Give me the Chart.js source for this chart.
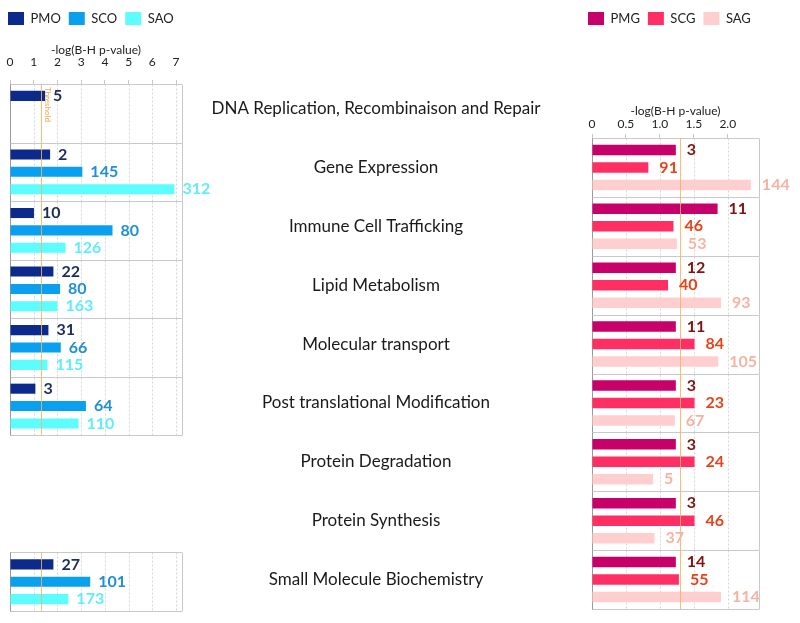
<!DOCTYPE html>
<html><head><meta charset="utf-8">
<script src="https://cdn.jsdelivr.net/npm/chart.js@4.4.1/dist/chart.umd.min.js"></script>
<style>
html,body{margin:0;padding:0;background:#fff;}
#wrap{position:relative;width:800px;height:623px;background:#fff;}
#wrap canvas{position:absolute;left:0;top:0;}
</style></head><body>
<div id="wrap">
<canvas id="leftChart" width="800" height="623"></canvas>
<canvas id="rightChart" width="800" height="623"></canvas>
</div>
<script>
// ---------- data ----------
const categories = [
  'DNA Replication, Recombinaison and Repair',
  'Gene Expression',
  'Immune Cell Trafficking',
  'Lipid Metabolism',
  'Molecular transport',
  'Post translational Modification',
  'Protein Degradation',
  'Protein Synthesis',
  'Small Molecule Biochemistry'
];
const axisTitle = '-log(B-H p-value)';
const thresholdValue = 1.3;

// left panel: -log(B-H p-value), one value per category (null = not shown)
const PMO = [1.48, 1.69, 1.01, 1.83, 1.62, 1.07, null, null, 1.83];
const SCO = [null, 3.05, 4.32, 2.11, 2.14, 3.20, null, null, 3.38];
const SAO = [null, 6.93, 2.34, 2.00, 1.58, 2.89, null, null, 2.46];
// left panel: molecule counts written next to the bars
const PMO_count = [5, 2, 10, 22, 31, 3, null, null, 27];
const SCO_count = [null, 145, 80, 80, 66, 64, null, null, 101];
const SAO_count = [null, 312, 126, 163, 115, 110, null, null, 173];
const leftTicks = [0, 1, 2, 3, 4, 5, 6, 7];

// right panel (categories from 'Gene Expression' on)
const PMG = [1.235, 1.85, 1.235, 1.235, 1.235, 1.235, 1.235, 1.235];
const SCG = [0.83, 1.20, 1.12, 1.51, 1.51, 1.51, 1.51, 1.28];
const SAG = [2.34, 1.25, 1.90, 1.86, 1.22, 0.90, 0.92, 1.90];
const PMG_count = [3, 11, 12, 11, 3, 3, 3, 14];
const SCG_count = [91, 46, 40, 84, 23, 24, 46, 55];
const SAG_count = [144, 53, 93, 105, 67, 5, 37, 114];
const rightTicks = [0, 0.5, 1.0, 1.5, 2.0];

// ---------- styling ----------
Chart.defaults.font.family = 'Lato';
Chart.defaults.color = '#222';

const panelsPlugin = {
  id: 'panels',
  beforeDatasetsDraw(chart, args, opts) {
    const {ctx, chartArea: {left, right}, scales: {x, y}} = chart;
    ctx.save();
    ctx.lineWidth = 1;
    for (let i = y.min; i <= y.max; i++) {
      const has = chart.data.datasets.some(d => d.data[i] != null);
      if (!has) continue;
      const top = Math.round(y.getPixelForValue(i - 0.5)) + 0.5;
      const bot = Math.round(y.getPixelForValue(i + 0.5)) + 0.5;
      ctx.setLineDash([2, 2]);
      ctx.strokeStyle = '#d6d6d6';
      x.ticks.forEach(t => {
        if (t.value <= 0) return;
        const px = Math.round(x.getPixelForValue(t.value)) + 0.5;
        ctx.beginPath(); ctx.moveTo(px, top); ctx.lineTo(px, bot); ctx.stroke();
      });
      ctx.setLineDash([]);
      ctx.strokeStyle = '#c9c9c9';
      ctx.beginPath();
      ctx.moveTo(left, top); ctx.lineTo(right, top);
      ctx.moveTo(left, bot); ctx.lineTo(right, bot);
      ctx.moveTo(Math.round(right) + 0.5, top); ctx.lineTo(Math.round(right) + 0.5, bot);
      ctx.stroke();
      ctx.strokeStyle = '#9a9a9a';
      ctx.beginPath();
      ctx.moveTo(Math.round(left) + 0.5, top); ctx.lineTo(Math.round(left) + 0.5, bot);
      ctx.stroke();
    }
    ctx.restore();
  },
  afterDatasetsDraw(chart, args, opts) {
    const {ctx, scales: {x, y}} = chart;
    ctx.save();
    const tx = Math.round(x.getPixelForValue(opts.threshold)) + 0.5;
    ctx.strokeStyle = 'rgba(248,178,90,0.85)';
    ctx.lineWidth = 1;
    let firstTop = null;
    for (let i = y.min; i <= y.max; i++) {
      const has = chart.data.datasets.some(d => d.data[i] != null);
      if (!has) continue;
      const top = y.getPixelForValue(i - 0.5);
      const bot = y.getPixelForValue(i + 0.5);
      if (firstTop === null) firstTop = top;
      ctx.beginPath(); ctx.moveTo(tx, top); ctx.lineTo(tx, bot); ctx.stroke();
    }
    if (opts.showText && firstTop !== null) {
      ctx.translate(tx + 6, firstTop + 3);
      ctx.rotate(Math.PI / 2);
      ctx.fillStyle = '#f0a54a';
      ctx.font = '8px Lato';
      ctx.textBaseline = 'middle';
      ctx.textAlign = 'left';
      ctx.fillText('Threshold', 0, 0);
    }
    ctx.restore();
  }
};

const countsPlugin = {
  id: 'counts',
  afterDatasetsDraw(chart, args, opts) {
    const {ctx} = chart;
    ctx.save();
    ctx.font = 'bold 16px Lato';
    ctx.textBaseline = 'middle';
    ctx.textAlign = 'left';
    chart.data.datasets.forEach((ds, di) => {
      const meta = chart.getDatasetMeta(di);
      meta.data.forEach((bar, i) => {
        const n = ds.counts[i];
        if (n == null || ds.data[i] == null) return;
        ctx.fillStyle = ds.countColor;
        ctx.fillText(String(n), bar.x + opts.offset, bar.y);
      });
    });
    ctx.restore();
  }
};

const categoryLabelsPlugin = {
  id: 'catLabels',
  afterDraw(chart, args, opts) {
    const {ctx, scales: {y}} = chart;
    ctx.save();
    ctx.font = '17px Lato';
    ctx.fillStyle = '#1a1a1a';
    ctx.textAlign = 'center';
    ctx.textBaseline = 'middle';
    categories.forEach((c, i) => {
      ctx.fillText(c, opts.centerX, y.getPixelForValue(i));
    });
    ctx.restore();
  }
};

function legendOpts() {
  return {
    position: 'top', align: 'start',
    labels: {boxWidth: 16, boxHeight: 13, padding: 8, font: {size: 13}, color: '#222'}
  };
}

// ---------- left chart ----------
new Chart(document.getElementById('leftChart'), {
  type: 'bar',
  data: {
    labels: categories,
    datasets: [
      {label: 'PMO', data: PMO, counts: PMO_count, backgroundColor: '#0c2a8c', countColor: '#1c2d5a'},
      {label: 'SCO', data: SCO, counts: SCO_count, backgroundColor: '#0aa0f0', countColor: '#1f8fd6'},
      {label: 'SAO', data: SAO, counts: SAO_count, backgroundColor: '#5cfcff', countColor: '#5eeefb'}
    ]
  },
  options: {
    indexAxis: 'y', responsive: false, animation: false,
    layout: {padding: {left: 0, right: 618, top: 4, bottom: 12}},
    datasets: {bar: {categoryPercentage: 0.89, barPercentage: 0.58}},
    scales: {
      x: {
        position: 'top', min: 0, max: 7.25,
        afterBuildTicks: s => { s.ticks = leftTicks.map(v => ({value: v})); },
        ticks: {stepSize: 1, padding: 11, font: {size: 12}, color: '#222', autoSkip: false, maxRotation: 0},
        grid: {display: true, drawOnChartArea: false, drawTicks: true, tickLength: 4, color: '#c8c8c8'},
        border: {display: false},
        title: {display: true, text: axisTitle, font: {size: 12}, color: '#222', padding: {top: 8, bottom: 0}},
        afterFit: s => { s.height = 49; s.paddingLeft = 0; s.paddingRight = 0; }
      },
      y: {
        ticks: {display: false}, grid: {display: false}, border: {display: false},
        afterFit: s => { s.width = 10; }
      }
    },
    plugins: {
      legend: legendOpts(),
      tooltip: {enabled: false},
      panels: {threshold: thresholdValue, showText: true},
      counts: {offset: 8}
    }
  },
  plugins: [panelsPlugin, countsPlugin]
});

// ---------- right chart ----------
new Chart(document.getElementById('rightChart'), {
  type: 'bar',
  data: {
    labels: categories,
    datasets: [
      {label: 'PMG', data: [null].concat(PMG), counts: [null].concat(PMG_count), backgroundColor: '#c8006a', countColor: '#7d1414'},
      {label: 'SCG', data: [null].concat(SCG), counts: [null].concat(SCG_count), backgroundColor: '#ff2e63', countColor: '#e8421c'},
      {label: 'SAG', data: [null].concat(SAG), counts: [null].concat(SAG_count), backgroundColor: '#ffcfcf', countColor: '#f6b3a3'}
    ]
  },
  options: {
    indexAxis: 'y', responsive: false, animation: false,
    layout: {padding: {left: 580, right: 41, top: 4, bottom: 14}},
    datasets: {bar: {categoryPercentage: 0.89, barPercentage: 0.6}},
    scales: {
      x: {
        position: 'top', min: 0, max: 2.46,
        afterBuildTicks: s => { s.ticks = rightTicks.map(v => ({value: v})); },
        ticks: {stepSize: 0.5, padding: 3, font: {size: 12}, color: '#222', autoSkip: false, maxRotation: 0,
          callback: v => v === 0 ? '0' : Number(v).toFixed(1)},
        grid: {display: true, drawOnChartArea: false, drawTicks: true, tickLength: 4, color: '#c8c8c8'},
        border: {display: false},
        title: {display: true, text: axisTitle, font: {size: 12}, color: '#222', padding: {top: 69, bottom: 0}},
        afterFit: s => { s.height = 103; s.paddingLeft = 0; s.paddingRight = 0; }
      },
      y: {
        min: categories[1],
        ticks: {display: false}, grid: {display: false}, border: {display: false},
        afterFit: s => { s.width = 12; }
      }
    },
    plugins: {
      legend: legendOpts(),
      tooltip: {enabled: false},
      panels: {threshold: thresholdValue, showText: false},
      counts: {offset: 11},
      catLabels: {centerX: 376}
    }
  },
  plugins: [panelsPlugin, countsPlugin, categoryLabelsPlugin]
});
</script>
</body></html>
